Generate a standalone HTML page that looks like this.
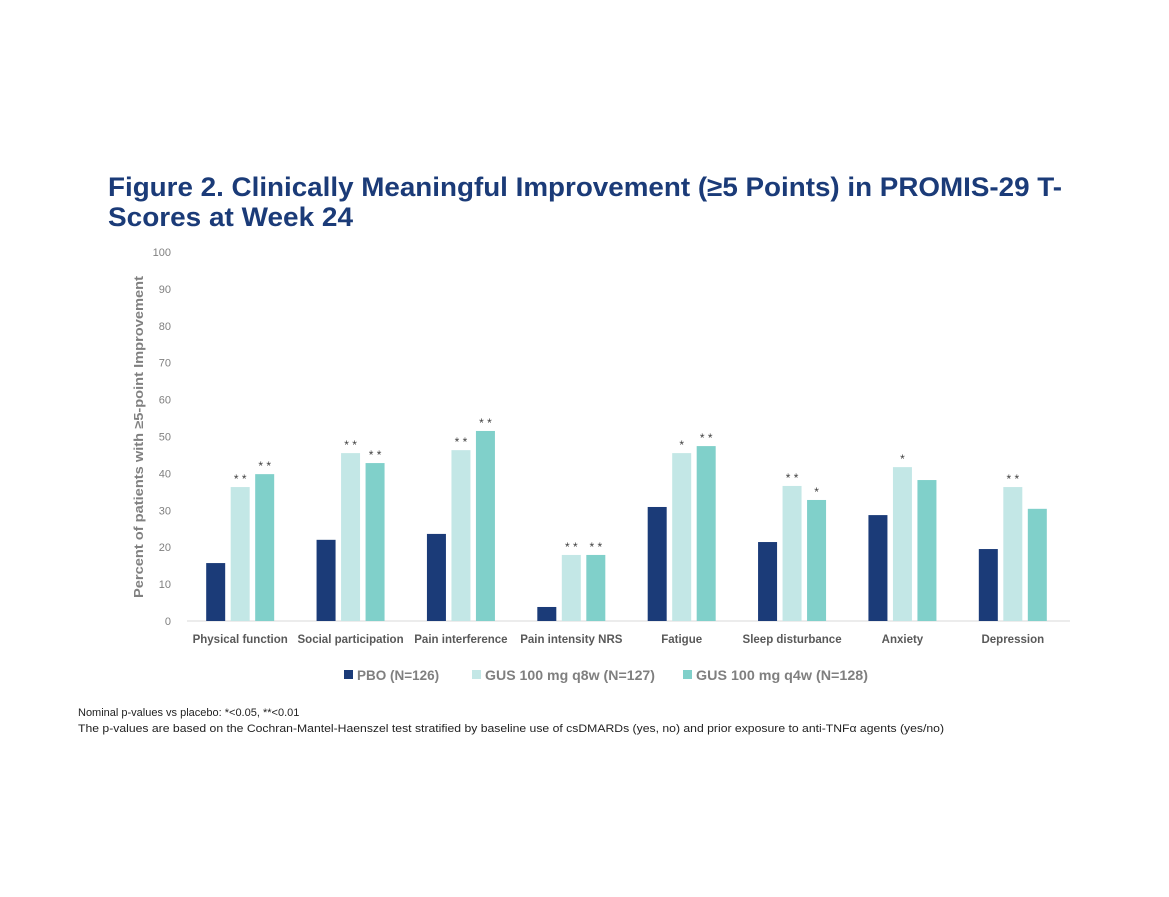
<!DOCTYPE html>
<html><head><meta charset="utf-8">
<style>
html,body{margin:0;padding:0;background:#fff;}
svg{display:block;font-family:"Liberation Sans",sans-serif;}
</style></head>
<body>
<svg id="chart" width="1169" height="897" viewBox="0 0 1169 897">
<text x="108" y="196" font-size="27" font-weight="bold" fill="#1b3b78" textLength="954" lengthAdjust="spacingAndGlyphs">Figure 2. Clinically Meaningful Improvement (≥5 Points) in PROMIS-29 T-</text>
<text x="108" y="226" font-size="27" font-weight="bold" fill="#1b3b78" textLength="245" lengthAdjust="spacingAndGlyphs">Scores at Week 24</text>
<text transform="translate(143,437) rotate(-90)" text-anchor="middle" font-size="13" font-weight="bold" fill="#808080" textLength="322" lengthAdjust="spacingAndGlyphs">Percent  of patients with ≥5-point Improvement</text>
<g id="yticks"></g>
<line x1="187" y1="621" x2="1070" y2="621" stroke="#d9d9d9" stroke-width="1"/>
<g id="bars"></g>
<g id="xlabels"></g>
<g id="legend">
<rect x="344" y="670" width="9" height="9" fill="#1b3b78"/>
<text x="357" y="680" font-size="13.5" font-weight="bold" fill="#7f7f7f">PBO (N=126)</text>
<rect x="472" y="670" width="9" height="9" fill="#c3e7e6"/>
<text x="485" y="680" font-size="13.5" font-weight="bold" fill="#7f7f7f" textLength="170" lengthAdjust="spacingAndGlyphs">GUS 100 mg q8w (N=127)</text>
<rect x="683" y="670" width="9" height="9" fill="#80d0ca"/>
<text x="696" y="680" font-size="13.5" font-weight="bold" fill="#7f7f7f" textLength="172" lengthAdjust="spacingAndGlyphs">GUS 100 mg q4w (N=128)</text>
</g>
<text x="78" y="716" font-size="11" fill="#222">Nominal p-values vs placebo: *&lt;0.05, **&lt;0.01</text>
<text x="78" y="732" font-size="11" fill="#222" textLength="866" lengthAdjust="spacingAndGlyphs">The p-values are based on the Cochran-Mantel-Haenszel test stratified by baseline use of csDMARDs (yes, no) and prior exposure to anti-TNFα agents (yes/no)</text>
</svg>
<script>
const categories=["Physical function","Social participation","Pain interference","Pain intensity NRS","Fatigue","Sleep disturbance","Anxiety","Depression"];
const pbo=[15.7,22,23.6,3.8,30.9,21.4,28.7,19.5];
const q8w=[36.3,45.5,46.3,17.9,45.5,36.6,41.7,36.3];
const q4w=[39.8,42.8,51.5,17.9,47.4,32.8,38.2,30.4];
const q8wSig=["**","**","**","**","*","**","*","**"];
const q4wSig=["**","**","**","**","**","*","",""];
const yTicks=[0,10,20,30,40,50,60,70,80,90,100];
const NS="http://www.w3.org/2000/svg";
const y0=621,yTop=252,x0=187,x1=1070;
function yScale(v){return y0-(v/100)*(y0-yTop);}
const band=(x1-x0)/categories.length;
function xCenter(i){return x0+band*i+band/2-2;}
function mk(tag,attrs,parent){const e=document.createElementNS(NS,tag);for(const k in attrs)e.setAttribute(k,attrs[k]);parent.appendChild(e);return e;}
const yt=document.getElementById('yticks');
yTicks.forEach(t=>{
  const e=mk('text',{x:171,y:yScale(t)+4,'text-anchor':'end','font-size':'11',fill:'#808080'},yt);
  
  
  e.textContent=t;
});
const bars=document.getElementById('bars');
const series=[[pbo,'#1b3b78',null,'pbo'],[q8w,'#c3e7e6',q8wSig,'q8w'],[q4w,'#80d0ca',q4wSig,'q4w']];
const bw=19,step=24.5;
categories.forEach((c,i)=>{
  series.forEach((s,j)=>{
    const cx=xCenter(i)+(j-1)*step;
    const v=s[0][i];
    const r=mk('rect',{x:cx-bw/2,y:yScale(v),width:bw,height:y0-yScale(v),fill:s[1]},bars);
    
    
    if(s[2]&&s[2][i]){
      const t=mk('text',{x:cx,y:yScale(v)-4,'text-anchor':'middle','font-size':'12',fill:'#404040'},bars);
      
      
      t.textContent=s[2][i].split('').join(' ');
    }
  });
  const l=mk('text',{x:xCenter(i),y:643,'text-anchor':'middle','font-size':'11.5',fill:'#595959','font-weight':'bold'},document.getElementById('xlabels'));
  
  
  l.textContent=c;
});
</script>
</body></html>
